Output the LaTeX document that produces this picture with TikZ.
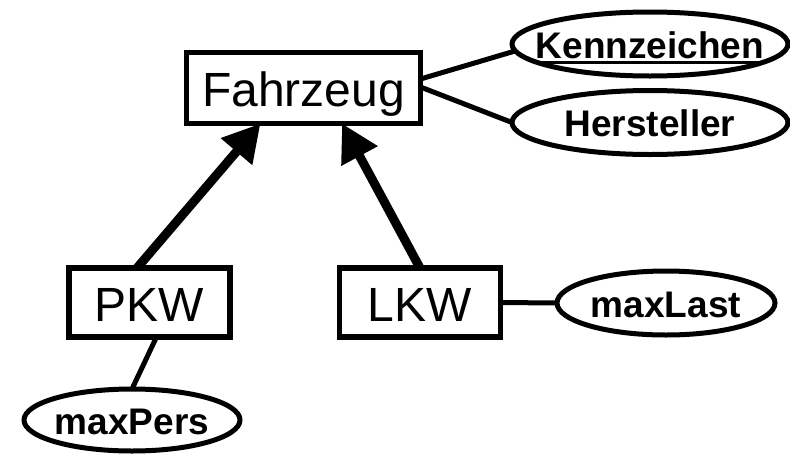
\documentclass[tikz,border=0pt]{standalone}
\usepackage{fontspec}
\setmainfont{Liberation Sans}
\usetikzlibrary{arrows.meta,shapes.geometric}

% label helpers: zero-size boxes so the shapes keep their own sizes
\newcommand\boxlabel[1]{\raisebox{-18.5pt}[0pt][0pt]{\makebox[0pt]{\fontsize{48}{48}\selectfont #1}}}
\newcommand\attrlabel[1]{\raisebox{-14pt}[0pt][0pt]{\makebox[0pt]{\bfseries\fontsize{37}{37}\selectfont #1}}}
\newcommand\keyword[1]{\setbox0\hbox{#1}\rlap{\vrule height -2.5pt depth 5.5pt width \wd0}\box0}

\tikzset{
  entity/.style={draw, line width=5.5pt, rectangle, inner sep=0pt, outer sep=0pt,
    minimum width=161pt, minimum height=69pt},
  attribute/.style={draw, line width=5pt, ellipse, inner sep=0pt, outer sep=0pt,
    minimum width=276pt, minimum height=64pt},
  link/.style={line width=5pt},
  isa/.style={line width=9pt, -{Triangle[length=37pt,width=39pt]}}
}

\begin{document}
\begin{tikzpicture}[x=1pt,y=-1pt]
  \fill[white] (0,0) rectangle (790,453);
  \useasboundingbox (0,0) rectangle (790,453);

  % entities
  \node[entity, minimum width=234pt, minimum height=71pt] (fz) at (303.5,88) {\boxlabel{Fahrzeug}};
  \node[entity] (pkw) at (149.5,302.5) {\boxlabel{PKW}};
  \node[entity] (lkw) at (420,302.5) {\boxlabel{LKW}};

  % attributes
  \node[attribute] (kenn) at (650,44) {\attrlabel{\keyword{Kennzeichen}}};
  \node[attribute] (herst) at (650,122.5) {\attrlabel{Hersteller}};
  \node[attribute, minimum width=218pt] (maxlast) at (666,303) {\attrlabel{maxLast}};
  \node[attribute, minimum width=216pt, minimum height=62pt] (maxpers) at (132,420) {\attrlabel{maxPers}};

  % attribute links
  \draw[link] ([yshift=9pt]fz.east) -- ([xshift=3pt,yshift=-7pt]kenn.west);
  \draw[link] ([yshift=1pt]fz.east) -- (herst.west);
  \draw[link] (lkw.east) -- (maxlast.west);
  \draw[link] ([xshift=7pt]pkw.south) -- (maxpers.north);

  % generalisation arrows
  \draw[isa] ([xshift=-12.5pt]pkw.north) -- ([xshift=-43pt]fz.south);
  \draw[isa] (lkw.north) -- ([xshift=38.5pt]fz.south);
\end{tikzpicture}
\end{document}
